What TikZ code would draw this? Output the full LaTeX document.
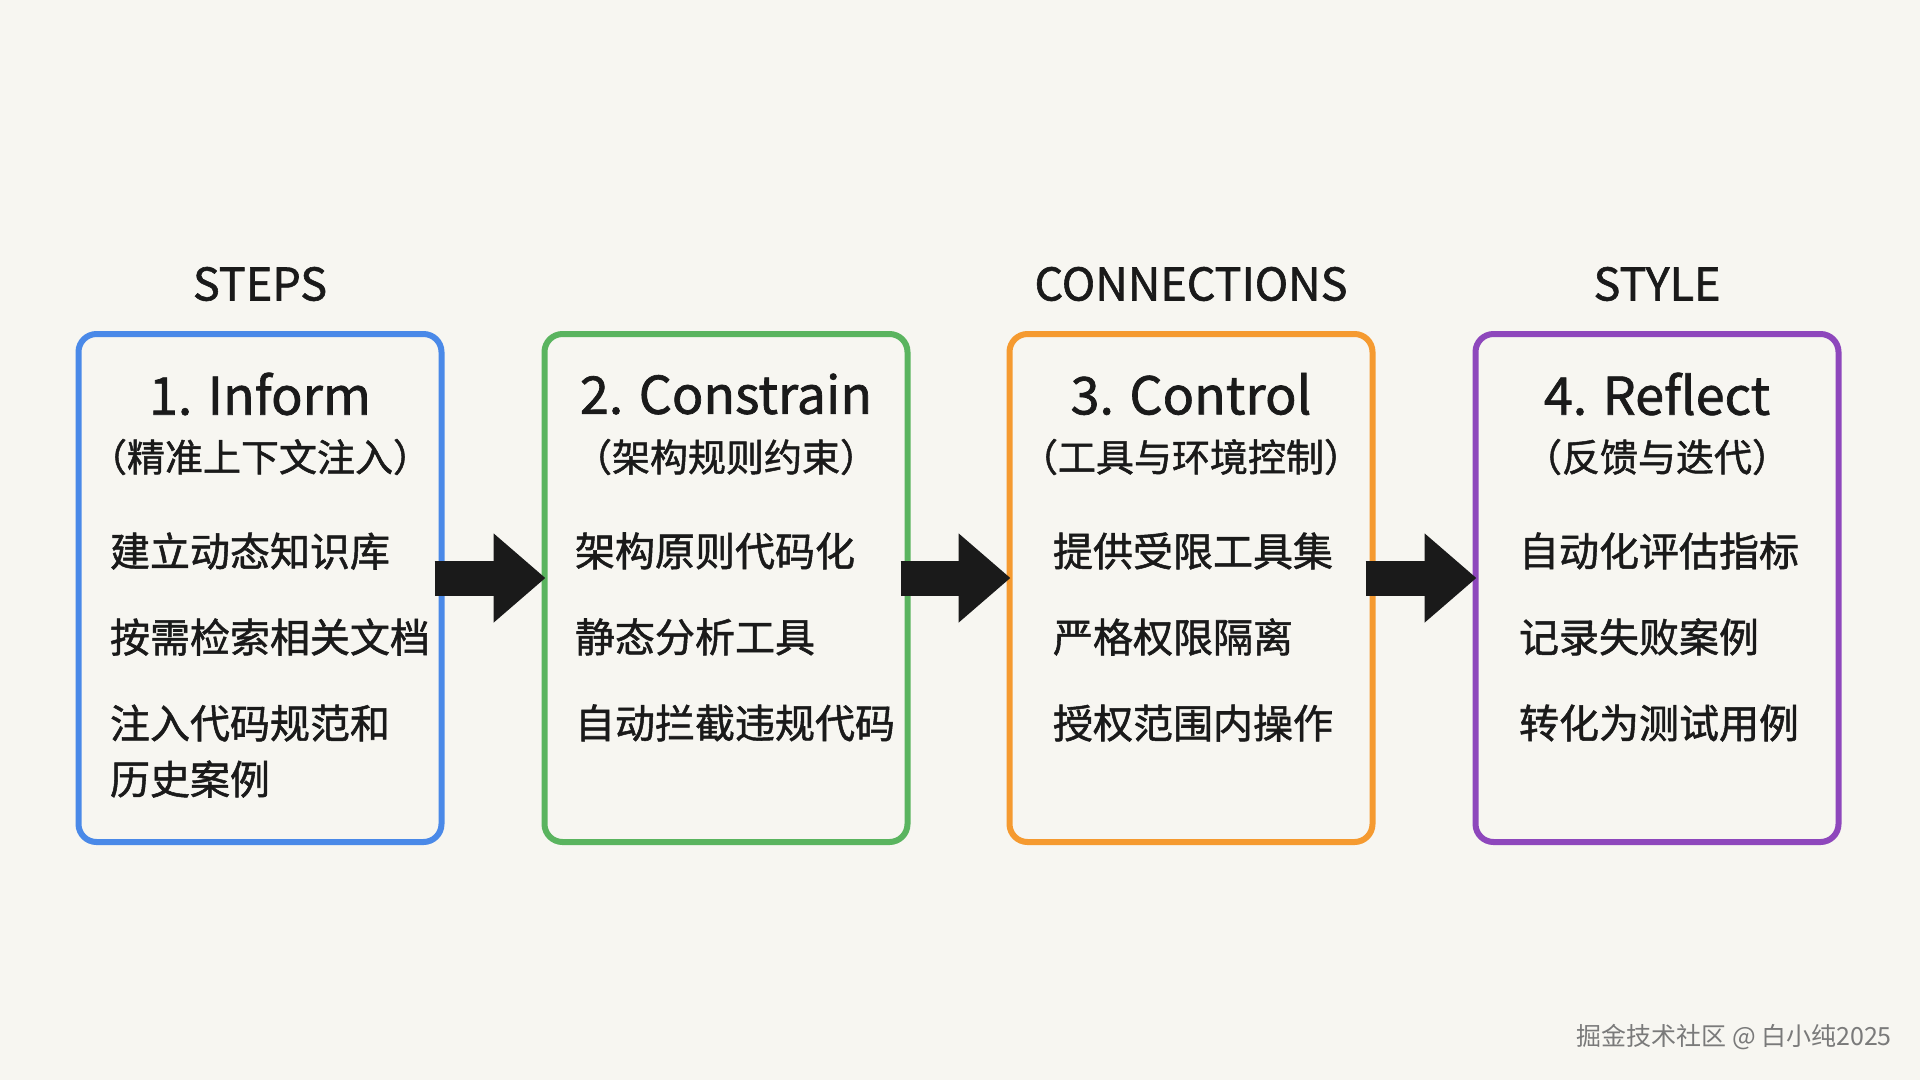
\documentclass[tikz,border=0pt]{standalone}
\usepackage{fontspec}
\setmainfont{Noto Sans CJK SC}
\newfontfamily\inkfont[FakeBold=1.3]{Noto Sans CJK SC}
\usepackage{xcolor}
\usetikzlibrary{arrows.meta, positioning}
\definecolor{pagebg}{HTML}{F7F6F1}
\definecolor{inkdark}{HTML}{1A1A1A}
\definecolor{cardblue}{HTML}{4A89E8}
\definecolor{cardgreen}{HTML}{5AB45F}
\definecolor{cardorange}{HTML}{F59A30}
\definecolor{cardpurple}{HTML}{8E47BC}
\definecolor{markgray}{HTML}{7A7A7A}

\begin{document}
\begin{tikzpicture}[
  x=1pt, y=1pt,
  card/.style={draw=#1, line width=6pt, rounded corners=18pt,
               minimum width=363pt, minimum height=508pt, inner sep=0pt},
  lane/.style={text=inkdark, inner sep=0pt, font=\inkfont\fontsize{45}{54}\selectfont},
  head/.style={text=inkdark, inner sep=0pt, font=\inkfont\fontsize{52}{62}\selectfont},
  sub/.style={text=inkdark, inner sep=0pt, font=\inkfont\fontsize{38}{46}\selectfont},
  items/.style={text=inkdark, inner sep=0pt, align=left,
                font=\inkfont\fontsize{40}{56}\selectfont},
  arr/.style={-{Triangle[length=52pt, width=86pt]}, line width=35pt, draw=inkdark}
]
\fill[pagebg] (0,0) rectangle (1920,-1080);
\useasboundingbox (0,0) rectangle (1920,-1080);

% four cards
\node[card=cardblue]   (inform)    at (260,-588)  {};
\node[card=cardgreen]  (constrain) at (726,-588)  {};
\node[card=cardorange] (control)   at (1191,-588) {};
\node[card=cardpurple] (reflect)   at (1657,-588) {};

% lane labels
\node[lane] (steps) at ([yshift=47pt]inform.north)  {STEPS};
\node[lane] (conns) at ([yshift=47pt]control.north) {CONNECTIONS};
\node[lane] (style) at ([yshift=47pt]reflect.north) {STYLE};

% titles
\node[head] (t1) at ([yshift=-63pt]inform.north)    {1. Inform};
\node[head] (t2) at ([yshift=-63pt]constrain.north) {2. Constrain};
\node[head] (t3) at ([yshift=-63pt]control.north)   {3. Control};
\node[head] (t4) at ([yshift=-63pt]reflect.north)   {4. Reflect};

\node[sub] (s1) at ([yshift=-126pt]inform.north)    {（精准上下文注入）};
\node[sub] (s2) at ([yshift=-126pt]constrain.north) {（架构规则约束）};
\node[sub] (s3) at ([yshift=-126pt]control.north)   {（工具与环境控制）};
\node[sub] (s4) at ([yshift=-126pt]reflect.north)   {（反馈与迭代）};

% item lists
\node[items, below=57pt of s1, xshift=10pt] (l1) {建立动态知识库\\[30pt]按需检索相关文档\\[30pt]注入代码规范和\\历史案例};
\node[items, below=57pt of s2, xshift=9pt] (l2) {架构原则代码化\\[30pt]静态分析工具\\[30pt]自动拦截违规代码};
\node[items, below=57pt of s3, xshift=2pt] (l3) {提供受限工具集\\[30pt]严格权限隔离\\[30pt]授权范围内操作};
\node[items, below=57pt of s4, xshift=2pt] (l4) {自动化评估指标\\[30pt]记录失败案例\\[30pt]转化为测试用例};

% arrows between cards
\draw[arr] ([xshift=-10pt,yshift=10pt]inform.east)    -- ([xshift=4pt,yshift=10pt]constrain.west);
\draw[arr] ([xshift=-10pt,yshift=10pt]constrain.east) -- ([xshift=4pt,yshift=10pt]control.west);
\draw[arr] ([xshift=-10pt,yshift=10pt]control.east)   -- ([xshift=4pt,yshift=10pt]reflect.west);

\node[text=markgray, inner sep=0pt, anchor=east, font=\fontsize{25}{30}\selectfont] (mark) at (1892,-1037) {掘金技术社区 @ 白小纯2025};
\end{tikzpicture}
\end{document}
